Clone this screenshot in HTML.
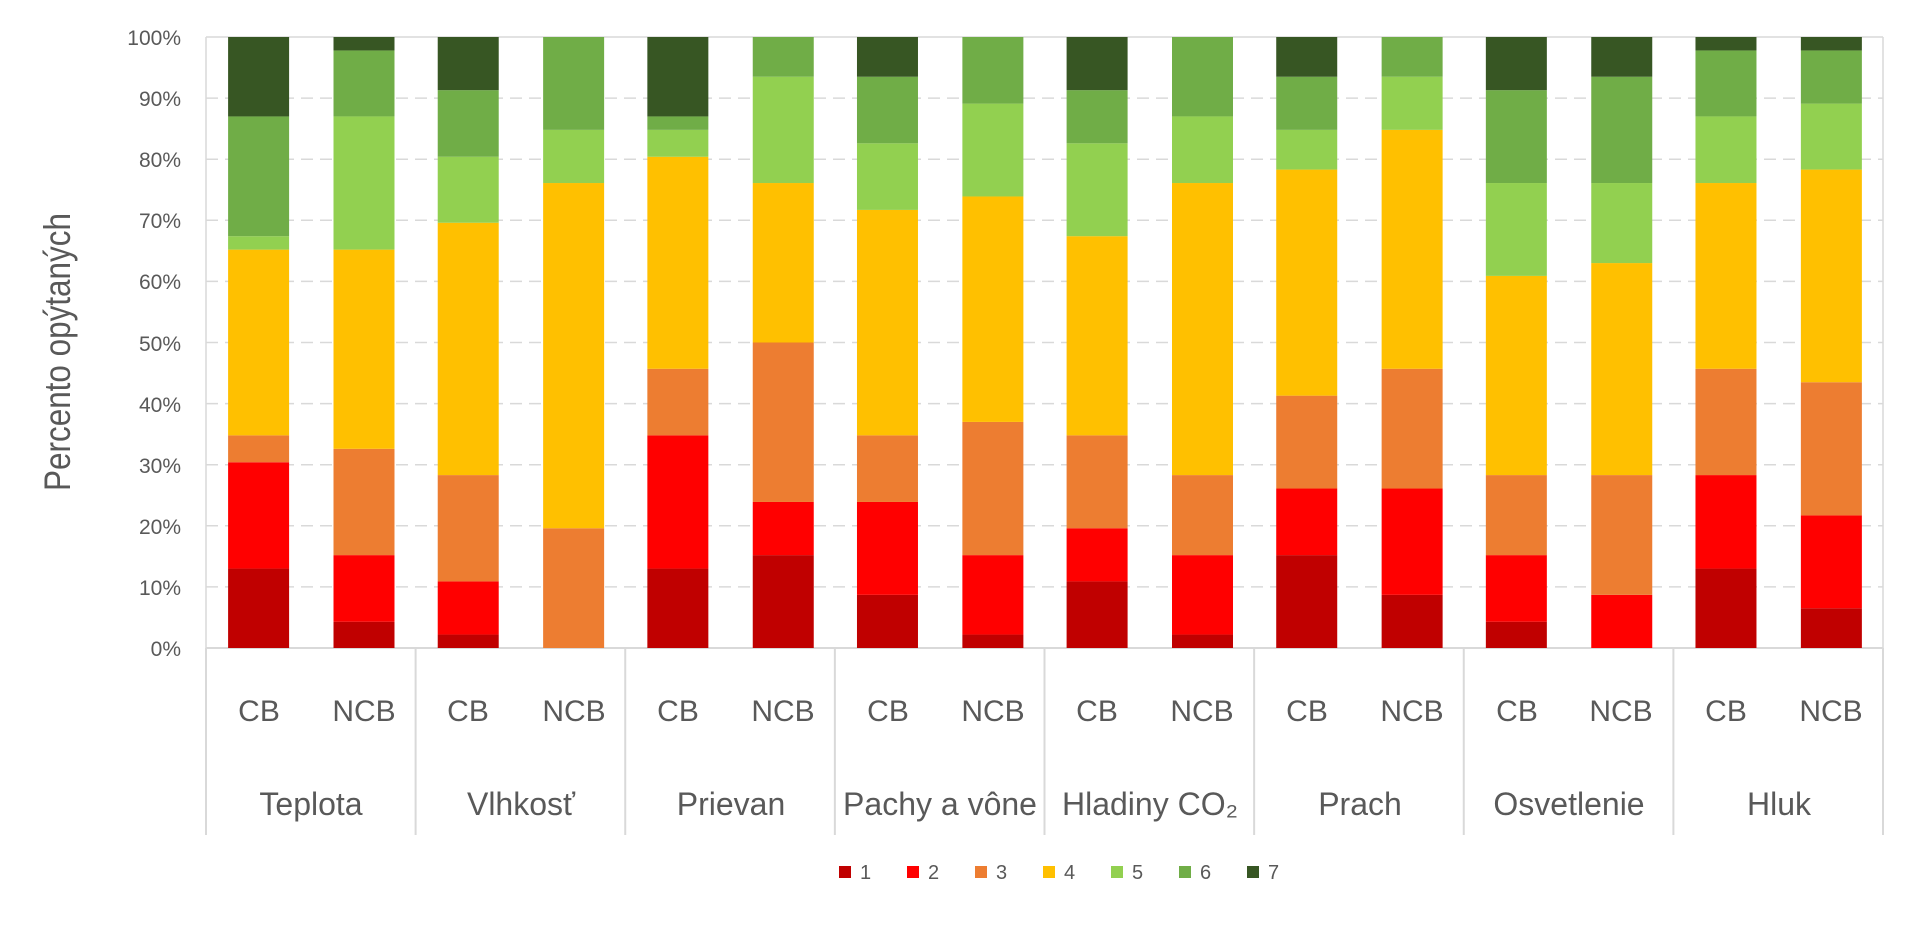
<!DOCTYPE html>
<html><head><meta charset="utf-8"><style>
html,body{margin:0;padding:0;background:#fff;}
svg{display:block;font-family:"Liberation Sans",sans-serif;}
</style></head><body>
<svg id="c" width="1920" height="926" viewBox="0 0 1920 926" xmlns="http://www.w3.org/2000/svg">
<g id="grid"></g>
<g id="bars"></g>
<g fill="#595959" font-size="21" text-anchor="end">
<text x="181" y="656">0%</text><text x="181" y="595">10%</text><text x="181" y="534">20%</text><text x="181" y="473">30%</text><text x="181" y="412">40%</text><text x="181" y="351">50%</text><text x="181" y="289">60%</text><text x="181" y="228">70%</text><text x="181" y="167">80%</text><text x="181" y="106">90%</text><text x="181" y="45">100%</text>
</g>
<text transform="translate(70,352) rotate(-90) scale(0.85,1)" text-anchor="middle" fill="#595959" font-size="37">Percento opýtaných</text>
<g fill="#595959" font-size="30" text-anchor="middle">
<text x="259" y="721">CB</text><text x="364" y="721">NCB</text>
<text x="468" y="721">CB</text><text x="574" y="721">NCB</text>
<text x="678" y="721">CB</text><text x="783" y="721">NCB</text>
<text x="888" y="721">CB</text><text x="993" y="721">NCB</text>
<text x="1097" y="721">CB</text><text x="1202" y="721">NCB</text>
<text x="1307" y="721">CB</text><text x="1412" y="721">NCB</text>
<text x="1517" y="721">CB</text><text x="1621" y="721">NCB</text>
<text x="1726" y="721">CB</text><text x="1831" y="721">NCB</text>
</g>
<g fill="#595959" font-size="32" text-anchor="middle">
<text x="311" y="815">Teplota</text><text x="521" y="815">Vlhkosť</text><text x="731" y="815">Prievan</text><text x="940" y="815">Pachy a vône</text><text x="1150" y="815">Hladiny CO₂</text><text x="1360" y="815">Prach</text><text x="1569" y="815">Osvetlenie</text><text x="1779" y="815">Hluk</text>
</g>
<g id="leg" font-size="20" fill="#595959">
<rect x="839" y="866" width="12" height="12" fill="#C00000"/><text x="860" y="879">1</text>
<rect x="907" y="866" width="12" height="12" fill="#FF0000"/><text x="928" y="879">2</text>
<rect x="975" y="866" width="12" height="12" fill="#ED7D31"/><text x="996" y="879">3</text>
<rect x="1043" y="866" width="12" height="12" fill="#FFC000"/><text x="1064" y="879">4</text>
<rect x="1111" y="866" width="12" height="12" fill="#92D050"/><text x="1132" y="879">5</text>
<rect x="1179" y="866" width="12" height="12" fill="#70AD47"/><text x="1200" y="879">6</text>
<rect x="1247" y="866" width="12" height="12" fill="#375623"/><text x="1268" y="879">7</text>
</g>
</svg>
<script>
var NS="http://www.w3.org/2000/svg";
var L=206,R=1883,T=37,B=648,H=B-T,GW=(R-L)/8,BW=61;
var cols=["#C00000","#FF0000","#ED7D31","#FFC000","#92D050","#70AD47","#375623"];
var d=[[13,30.4,34.8,65.2,67.4,87,100],[4.3,15.2,32.6,65.2,87,97.8,100],
[2.2,10.9,28.3,69.6,80.4,91.3,100],[0,0,19.6,76.1,84.8,100,100],
[13,34.8,45.7,80.4,84.8,87,100],[15.2,23.9,50,76.1,93.5,100,100],
[8.7,23.9,34.8,71.7,82.6,93.5,100],[2.2,15.2,37,73.9,89.1,100,100],
[10.9,19.6,34.8,67.4,82.6,91.3,100],[2.2,15.2,28.3,76.1,87,100,100],
[15.2,26.1,41.3,78.3,84.8,93.5,100],[8.7,26.1,45.7,84.8,93.5,100,100],
[4.3,15.2,28.3,60.9,76.1,91.3,100],[0,8.7,28.3,63,76.1,93.5,100],
[13,28.3,45.7,76.1,87,97.8,100],[6.5,21.7,43.5,78.3,89.1,97.8,100]];
function el(p,t,a){var e=document.createElementNS(NS,t);for(var k in a)e.setAttribute(k,a[k]);p.appendChild(e);return e;}
var g=document.getElementById("grid"),b=document.getElementById("bars");
for(var i=1;i<=9;i++){var y=B-H*i/10;el(g,"line",{x1:L,x2:R,y1:y,y2:y,stroke:"#d9d9d9","stroke-width":1.5,"stroke-dasharray":"12,7"});}
el(g,"line",{x1:L,x2:R,y1:T,y2:T,stroke:"#d9d9d9","stroke-width":1.5});
el(g,"line",{x1:R,x2:R,y1:T,y2:B,stroke:"#d9d9d9","stroke-width":1.5});
el(g,"line",{x1:L,x2:L,y1:T,y2:B,stroke:"#d9d9d9","stroke-width":1.5});
el(g,"line",{x1:L,x2:R,y1:B,y2:B,stroke:"#d9d9d9","stroke-width":2});
for(var i=0;i<=8;i++){var x=L+GW*i;el(g,"line",{x1:x,x2:x,y1:B,y2:835,stroke:"#d9d9d9","stroke-width":2});}
for(var j=0;j<16;j++){var gi=Math.floor(j/2),cx=L+GW*gi+(j%2?158:52.6),prev=0;
for(var s=0;s<7;s++){var v=d[j][s];if(v>prev){var y1=B-H*v/100,y0=B-H*prev/100;el(b,"rect",{x:cx-BW/2,y:y1,width:BW,height:y0-y1,fill:cols[s]});}prev=v;}}
</script>
</body></html>
